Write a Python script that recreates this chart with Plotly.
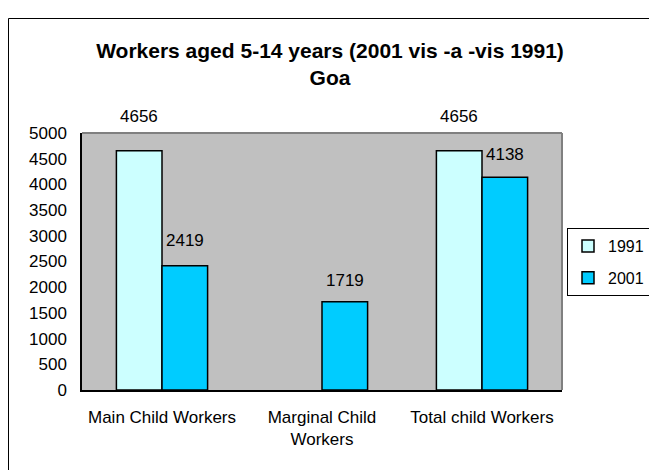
import plotly.graph_objects as go

# Child workers in Goa, 1991 vs 2001
categories = ["Main Child Workers", "Marginal Child<br>Workers", "Total child Workers"]
workers_1991 = [4656, None, 4656]
workers_2001 = [2419, 1719, 4138]
y_ticks = [0, 500, 1000, 1500, 2000, 2500, 3000, 3500, 4000, 4500, 5000]

FONT = "Liberation Sans, Arial, sans-serif"
C1991 = "#CCFFFF"
C2001 = "#00CCFF"

W, H = 649, 470
L, R, T, B = 82, 87, 133, 80
plot_w = W - L - R
plot_h = H - T - B

fig = go.Figure()
fig.add_trace(go.Bar(name="1991", legendgroup="1991", x=list(range(3)), y=workers_1991,
                     marker=dict(color=C1991, line=dict(color="black", width=1.5))))
fig.add_trace(go.Bar(name="2001", legendgroup="2001", x=list(range(3)), y=workers_2001,
                     marker=dict(color=C2001, line=dict(color="black", width=1.5))))

# value labels above each bar (half a bar-width either side of the category centre)
half = 0.1425
label_lift = {("1991", 0): 34, ("2001", 0): 25, ("2001", 1): 21,
              ("1991", 2): 34, ("2001", 2): 23}
for name, vals, dx in (("1991", workers_1991, -half), ("2001", workers_2001, half)):
    for i, v in enumerate(vals):
        if v is None:
            continue
        fig.add_annotation(x=i + dx, y=v, xref="x", yref="y", text=str(v),
                           showarrow=False, yshift=label_lift[(name, i)],
                           font=dict(family=FONT, size=17, color="black"))

def px_x(p):
    return (p - L) / plot_w

def px_y(p):
    return (H - B - p) / plot_h

shapes = [
    # plot-area frame, top and right edges
    dict(type="line", xref="paper", yref="paper", x0=0, x1=1, y0=1, y1=1,
         line=dict(color="#808080", width=2)),
    dict(type="line", xref="paper", yref="paper", x0=1, x1=1, y0=0, y1=1,
         line=dict(color="#808080", width=2)),
    # chart border
    dict(type="rect", xref="paper", yref="paper",
         x0=px_x(8.5), x1=px_x(W + 10), y0=px_y(H + 10), y1=px_y(18.5),
         line=dict(color="black", width=1), fillcolor="rgba(0,0,0,0)"),
]

fig.update_layout(
    width=W, height=H,
    margin=dict(l=L, r=R, t=T, b=B, autoexpand=False),
    paper_bgcolor="white",
    plot_bgcolor="#C0C0C0",
    barmode="group",
    bargap=0.43,
    bargroupgap=0,
    font=dict(family=FONT, size=17, color="black"),
    title=dict(text="Workers aged 5-14 years (2001 vis -a -vis 1991)<br>Goa",
               x=330 / W, xanchor="center", xref="container",
               y=1 - 58 / H, yanchor="middle", yref="container",
               font=dict(family=FONT, size=21, color="black", weight="bold")),
    xaxis=dict(tickmode="array", tickvals=list(range(3)), ticktext=categories,
               range=[-0.5, 2.5], showgrid=False, zeroline=False,
               showline=True, linecolor="black", linewidth=1.5,
               ticks="", ticklabelstandoff=11,
               tickfont=dict(family=FONT, size=17)),
    yaxis=dict(tickmode="array", tickvals=y_ticks, range=[0, 5000],
               showgrid=False, zeroline=False,
               showline=True, linecolor="black", linewidth=1.5,
               ticks="", ticklabelstandoff=10,
               tickfont=dict(family=FONT, size=17)),
    legend=dict(x=px_x(567), y=px_y(228), xanchor="left", yanchor="top",
                bordercolor="black", borderwidth=1, bgcolor="white",
                font=dict(family=FONT, size=16), itemwidth=30,
                tracegroupgap=8),
    shapes=shapes,
    showlegend=True,
)

fig.write_html("out.html")
